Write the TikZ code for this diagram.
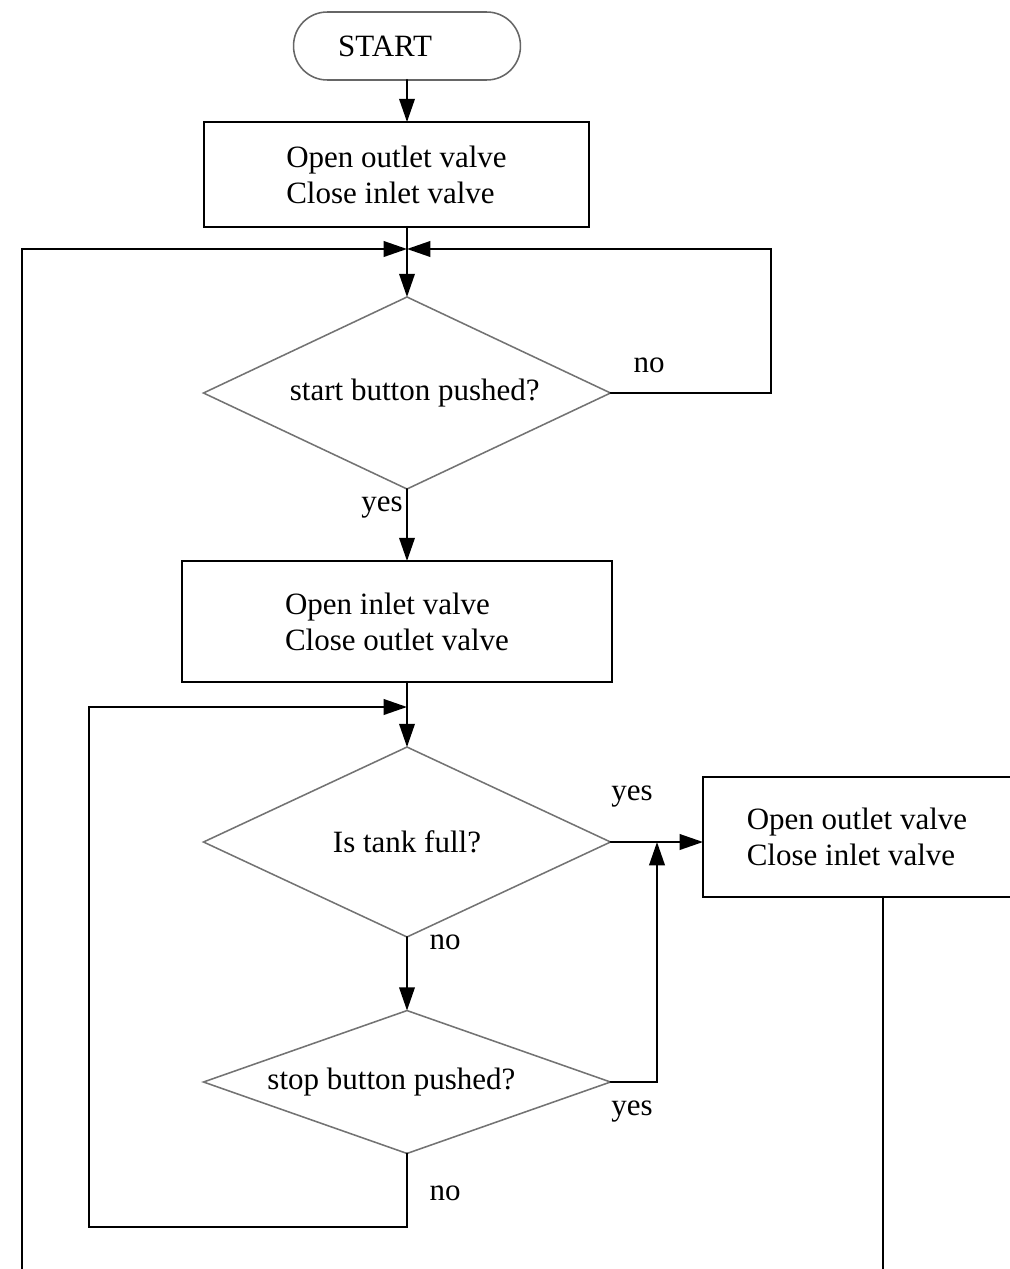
\documentclass[tikz,border=0pt]{standalone}
\usepackage{fontspec}
\setmainfont{Liberation Serif}
\usepackage{tikz}
\usetikzlibrary{shapes.geometric,arrows.meta}

\begin{document}
\begin{tikzpicture}
		[x=0.387pt,y=-0.387pt,line cap=round,
		%Styles
		terminal/.style={draw=black!60,line width=0.6pt,rounded corners=13pt,minimum width=87.8pt,minimum height=26.3pt,inner sep=0pt,outer sep=0pt},
		action box/.style={draw,line width=0.8pt,align=left,inner sep=0pt,outer sep=0pt},
		decision/.style={diamond,draw=black!55,line width=0.6pt,inner sep=0pt,outer sep=0pt,minimum width=157.5pt},
		flow/.style={-{Triangle[length=9pt,width=6pt]},line width=0.8pt},
		wire/.style={line width=0.8pt},
		answer/.style={inner sep=0pt}
		]
		\useasboundingbox (0,0) rectangle (1009,1269);
		\tikzset{every node/.style={font=\fontsize{12}{14}\selectfont}}
		
		%The nodes
		\node[terminal] (start) at (407,46) {START\hspace*{17pt}};
		\node[action box,minimum width=149pt,minimum height=40.6pt] (box1) at (396.5,174.5) {Open outlet valve\\Close inlet valve};
		\node[decision,aspect=2.12,minimum height=74.3pt] (ask1) at (407,393) {start button pushed?\hspace*{-6pt}};
		\node[action box,minimum width=166.4pt,minimum height=46.8pt] (box2) at (397,621.5) {Open inlet valve\\Close outlet valve};
		\node[decision,aspect=2.14,minimum height=73.5pt] (ask2) at (407,842) {Is tank full?};
		\node[decision,aspect=2.85,minimum height=55.3pt] (ask3) at (407,1082) {\hspace*{-12pt}stop button pushed?};
		\node[action box,minimum width=119.2pt,minimum height=46.4pt] (box3) at (857,837) {Open outlet valve\\Close inlet valve};
		
		%Join points
		\coordinate (merge1) at (407,249);
		\coordinate (merge2) at (407,707);
		\coordinate (join3) at (657,842);
		\coordinate (loop1) at (771,249);
		\coordinate (loop2) at (89,1227);
		\coordinate (leftend) at (22,1269);
		\coordinate (rightend) at (883,1269);
		
		%The graphic
		\draw[flow] (start) -- (start |- box1.north);
		\draw[wire] (box1.south -| merge1) -- (merge1);
		\draw[flow] (merge1) -- (ask1.north);
		\draw[flow] (leftend) |- (merge1);
		\draw[flow] (ask1.east) -| (loop1) -- (merge1);
		\draw[flow] (ask1.south) -- (ask1.south |- box2.north);
		\draw[wire] (box2.south -| merge2) -- (merge2);
		\draw[flow] (merge2) -- (ask2.north);
		\draw[flow] (ask2.east) -- (ask2.east -| box3.west);
		\draw[flow] (ask2.south) -- (ask3.north);
		\draw[flow] (ask3.east) -| (join3);
		\draw[flow] (ask3.south) |- (loop2) |- (merge2);
		\draw[wire] (box3.south -| rightend) -- (rightend);
		
		%Answers
		\node[answer] (no1) at (649,365) {no};
		\node[answer] (yes1) at (382,508) {yes};
		\node[answer] (yes2) at (632,797) {yes};
		\node[answer] (no2) at (445,942) {no};
		\node[answer] (yes3) at (632,1112) {yes};
		\node[answer] (no3) at (445,1193) {no};
	\end{tikzpicture}
\end{document}
